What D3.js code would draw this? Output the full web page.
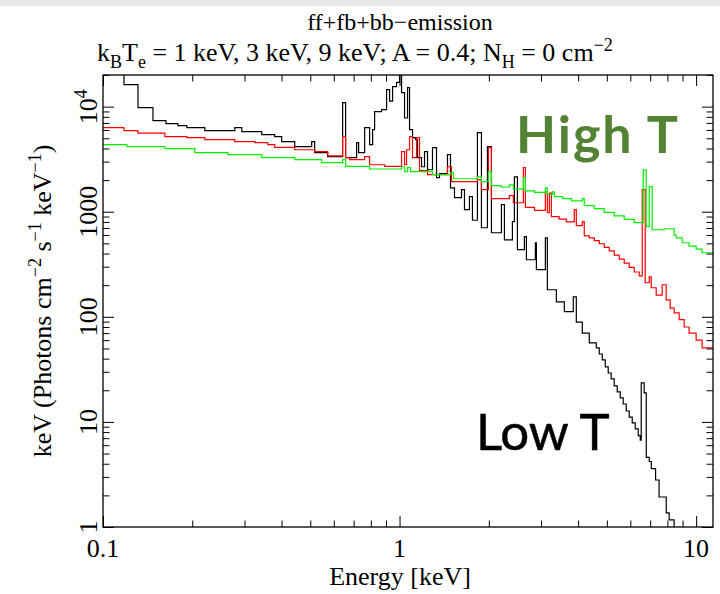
<!DOCTYPE html>
<html>
<head>
<meta charset="utf-8">
<script src="https://cdn.jsdelivr.net/npm/d3@7"></script>
<style>
  body { margin: 0; background: #fff; }
  svg { display: block; }
</style>
</head>
<body>
<svg id="chart" width="720" height="594"></svg>
<script>
// Axis tick labels
const energyTicks = [0.1, 1, 10];
const energyTickLabels = ["0.1", "1", "10"];
const fluxTicks = [1, 10, 100, 1000, 10000];
const fluxTickLabels = [["1"], ["10"], ["100"], ["1000"], ["10", "4"]];

// Model spectra: [bin start energy (keV), E·F(E)]; the last pair closes the final bin.
// kT = 1 keV
const specLowT = [
  [0.100, 30000], [0.1177, 16200], [0.1312, 9780], [0.1474, 7360], [0.1630, 6890],
  [0.1789, 6600], [0.1918, 6310], [0.2205, 5910], [0.2782, 6310], [0.2938, 5780],
  [0.3430, 5410], [0.3794, 5180], [0.4006, 4640], [0.4430, 4160], [0.5055, 4640],
  [0.5173, 3650], [0.5722, 3340], [0.6427, 10900], [0.6578, 3270], [0.7166, 4540],
  [0.7277, 3650], [0.7625, 6310], [0.7925, 4350], [0.8113, 6040], [0.8239, 8960],
  [0.8697, 9360], [0.9042, 14500], [0.9255, 11300], [0.9472, 15500], [0.9770, 17000],
  [1.0000, 22000], [1.0156, 13600], [1.0395, 7800], [1.0640, 15200], [1.0806, 6040],
  [1.1060, 5070], [1.1320, 4850], [1.1498, 3270], [1.1861, 2680], [1.2140, 3730],
  [1.2425, 2510], [1.2915, 4070], [1.3322, 2110], [1.3636, 2300], [1.4508, 3490],
  [1.4849, 1690], [1.5317, 1360], [1.6175, 1620], [1.6553, 1045], [1.7206, 1390],
  [1.7610, 830], [1.8305, 5650], [1.8884, 704], [1.9784, 4160], [2.0408, 631],
  [2.2054, 1166], [2.2572, 540], [2.4017, 804], [2.4390, 2150], [2.4967, 435],
  [2.6360, 580], [2.6773, 349], [2.8707, 507], [2.8932, 281], [3.1018, 565],
  [3.1503, 181], [3.3784, 139], [3.5938, 112], [3.8531, 155], [3.9445, 89],
  [4.1321, 70], [4.3624, 56.5], [4.607, 50.7], [4.714, 44.3], [4.826, 38.9],
  [4.940, 33.4], [5.053, 29.2], [5.172, 25.7], [5.294, 22.0], [5.420, 19.3],
  [5.547, 16.9], [5.678, 14.8], [5.812, 12.7], [5.949, 11.1], [6.089, 9.8],
  [6.233, 8.6], [6.380, 7.4], [6.480, 6.7], [6.53, 23.5], [6.68, 18.9],
  [6.79, 4.6], [6.95, 4.2], [7.06, 3.6], [7.30, 2.8], [7.50, 1.93],
  [7.93, 1.36], [8.11, 1.17], [8.43, 0.5], [8.60, 0.5]
];
// kT = 3 keV
const specMidT = [
  [0.100, 6310], [0.1177, 5910], [0.1312, 5600], [0.1617, 5180], [0.1918, 5070],
  [0.2205, 4850], [0.2782, 4640], [0.3250, 4540], [0.3593, 4350], [0.3794, 4100],
  [0.4430, 3890], [0.5173, 3730], [0.5722, 3400], [0.6427, 5180], [0.6578, 3270],
  [0.6785, 3130], [0.7625, 3340], [0.7925, 2800], [0.8903, 2700], [1.0156, 3730],
  [1.0395, 2800], [1.0558, 3890], [1.0806, 5180], [1.1060, 3270], [1.1409, 5070],
  [1.1678, 2460], [1.2425, 2250], [1.4508, 2680], [1.4963, 1930], [1.8305, 2020],
  [1.8884, 1620], [1.9938, 4070], [2.0408, 1330], [2.3464, 1420], [2.4200, 1218],
  [2.6157, 2630], [2.6560, 1100], [2.8500, 1030], [3.1018, 1550], [3.1503, 978],
  [3.2000, 1500], [3.2500, 900], [3.4500, 850], [3.6500, 800], [3.8834, 1045],
  [3.9445, 736], [4.1321, 804], [4.196, 590], [4.362, 565], [4.535, 530],
  [4.714, 496], [4.900, 458], [5.093, 424], [5.294, 387], [5.505, 354],
  [5.722, 324], [5.949, 295], [6.184, 267], [6.430, 245], [6.5808, 1620],
  [6.735, 211], [6.9476, 240], [7.0557, 189], [7.334, 161], [7.6836, 202],
  [7.9250, 145], [8.175, 121], [8.4317, 109], [8.7664, 94], [9.113, 80],
  [9.4717, 70], [10.0, 60], [10.476, 50.7], [11.4, 50.7]
];
// kT = 9 keV
const specHighT = [
  [0.100, 4350], [0.1204, 4160], [0.1617, 3980], [0.2040, 3650], [0.2636, 3490],
  [0.3430, 3270], [0.4430, 3130], [0.5462, 2930], [0.6427, 3130], [0.6578, 2700],
  [0.7925, 2550], [1.0156, 2680], [1.0395, 2410], [1.0640, 2630], [1.0890, 2410],
  [1.2915, 2250], [1.4849, 2350], [1.5199, 2060], [1.8305, 2150], [1.8884, 1930],
  [1.9938, 2410], [2.0408, 1770], [2.2000, 1720], [2.3464, 1800], [2.4200, 1650],
  [2.6157, 2110], [2.6560, 1580], [2.8500, 1530], [3.1018, 1690], [3.1503, 1460],
  [3.2749, 1550], [3.3260, 1390], [3.5500, 1330], [3.8000, 1270], [4.1321, 1330],
  [4.196, 1143], [4.535, 1069], [4.900, 986], [5.294, 915], [5.722, 847],
  [6.184, 786], [6.6310, 2510], [6.7866, 720], [6.9476, 1730], [7.1112, 674],
  [7.8046, 689], [8.4317, 600], [8.5648, 565], [8.9730, 507], [9.4717, 470],
  [10.0, 440], [10.476, 407], [11.4, 407]
];

const series = [
  { data: specLowT, color: "#000000" },
  { data: specMidT, color: "#ff0000" },
  { data: specHighT, color: "#00f000" }
];

const plot = { left: 103, right: 713, top: 75, bottom: 527 };
const x = d3.scaleLog().domain([0.1, 11.4]).range([plot.left, plot.right]);
const y = d3.scaleLog().domain([1, 2e4]).range([plot.bottom, plot.top]);

const svg = d3.select("#chart");
const serif = "'Liberation Serif', 'Times New Roman', serif";
const fs = 26, fsSup = 18;

// thin grey band along the top edge
svg.append("rect").attr("x", 0).attr("y", 0).attr("width", 720).attr("height", 6).attr("fill", "#e8e8e8");

svg.append("defs").append("clipPath").attr("id", "plotclip")
  .append("rect")
  .attr("x", plot.left).attr("y", plot.top)
  .attr("width", plot.right - plot.left).attr("height", plot.bottom - plot.top);

// spectra as step histograms
const line = d3.line()
  .x(d => x(d[0]))
  .y(d => y(d[1]))
  .curve(d3.curveStepAfter);

const curves = svg.append("g").attr("clip-path", "url(#plotclip)");
series.forEach(s => {
  curves.append("path")
    .attr("d", line(s.data))
    .attr("fill", "none")
    .attr("stroke", s.color)
    .attr("stroke-width", 1.2);
});

// ticks on all four sides, pointing inward
const isMajor = v => Math.abs(Math.log10(v) - Math.round(Math.log10(v))) < 1e-9;
const xMinor = x.ticks().filter(v => !isMajor(v));
const yMinor = y.ticks().filter(v => !isMajor(v));
const xMajor = x.ticks().filter(isMajor);
const yMajor = y.ticks().filter(isMajor);

function tickAxis(gen, tf, values, size) {
  const g = svg.append("g").attr("transform", tf)
    .call(gen.tickValues(values).tickSize(size).tickSizeOuter(0).tickFormat(""));
  g.select(".domain").remove();
  g.selectAll(".tick line").attr("stroke", "#000").attr("stroke-width", 1);
}
[[xMinor, 6.5], [xMajor, 11]].forEach(([vals, len]) => {
  tickAxis(d3.axisBottom(x), `translate(0,${plot.bottom})`, vals, -len);
  tickAxis(d3.axisTop(x), `translate(0,${plot.top})`, vals, -len);
});
[[yMinor, 6.5], [yMajor, 11]].forEach(([vals, len]) => {
  tickAxis(d3.axisLeft(y), `translate(${plot.left},0)`, vals, -len);
  tickAxis(d3.axisRight(y), `translate(${plot.right},0)`, vals, -len);
});

// frame
svg.append("rect")
  .attr("x", plot.left).attr("y", plot.top)
  .attr("width", plot.right - plot.left).attr("height", plot.bottom - plot.top)
  .attr("fill", "none").attr("stroke", "#000").attr("stroke-width", 1.3);

// x tick labels
energyTicks.forEach((v, i) => {
  svg.append("text")
    .attr("x", x(v)).attr("y", 557)
    .attr("text-anchor", "middle")
    .attr("font-family", serif).attr("font-size", fs)
    .text(energyTickLabels[i]);
});

// y tick labels, rotated
fluxTicks.forEach((v, i) => {
  const t = svg.append("text")
    .attr("transform", `translate(97,${y(v)}) rotate(-90)`)
    .attr("text-anchor", "middle")
    .attr("font-family", serif).attr("font-size", fs);
  const parts = fluxTickLabels[i];
  t.append("tspan").text(parts[0]);
  if (parts[1]) {
    t.append("tspan").attr("dy", -10).attr("font-size", fsSup).text(parts[1]);
  }
});

// axis titles
svg.append("text")
  .attr("x", 400).attr("y", 585)
  .attr("text-anchor", "middle")
  .attr("font-family", serif).attr("font-size", fs)
  .text("Energy [keV]");

const yt = svg.append("text")
  .attr("transform", `translate(51,${(plot.top + plot.bottom) / 2}) rotate(-90)`)
  .attr("text-anchor", "middle")
  .attr("font-family", serif).attr("font-size", fs);
[["keV (Photons cm", 0], ["−2", 1], [" s", 0], ["−1", 1], [" keV", 0], ["−1", 1], [")", 0]]
  .forEach(([s, sup], i, arr) => {
    const prevSup = i > 0 ? arr[i - 1][1] : 0;
    const dy = sup && !prevSup ? -10 : (!sup && prevSup ? 10 : 0);
    yt.append("tspan").attr("dy", dy).attr("font-size", sup ? fsSup : fs).text(s);
  });

// titles
svg.append("text")
  .attr("x", 400).attr("y", 30)
  .attr("text-anchor", "middle")
  .attr("font-family", serif).attr("font-size", 24)
  .text("ff+fb+bb−emission");

const t2 = svg.append("text")
  .attr("x", 97).attr("y", 61)
  .attr("font-family", serif).attr("font-size", fs);
[["k", 0], ["B", -1], ["T", 0], ["e", -1], [" = 1 keV, 3 keV, 9 keV; A = 0.4; N", 0], ["H", -1], [" = 0 cm", 0], ["−2", 1]]
  .forEach(([s, mode], i, arr) => {
    const prev = i > 0 ? arr[i - 1][1] : 0;
    const off = m => (m === -1 ? 7 : m === 1 ? -10 : 0);
    t2.append("tspan").attr("dy", off(mode) - off(prev))
      .attr("font-size", mode ? fsSup : fs).text(s);
  });

// annotations
svg.append("text")
  .attr("x", 516).attr("y", 153)
  .attr("font-family", "Lato, 'Open Sans', sans-serif")
  .attr("font-weight", 700).attr("font-size", 52)
  .attr("letter-spacing", 2)
  .attr("fill", "#548235")
  .text("High T");

svg.append("text")
  .attr("x", 476).attr("y", 450)
  .attr("font-family", "Lato, 'Open Sans', sans-serif")
  .attr("font-weight", 400).attr("font-size", 51)
  .attr("fill", "#000").attr("stroke", "#000").attr("stroke-width", 0.5)
  .text("Low T");
</script>
</body>
</html>
